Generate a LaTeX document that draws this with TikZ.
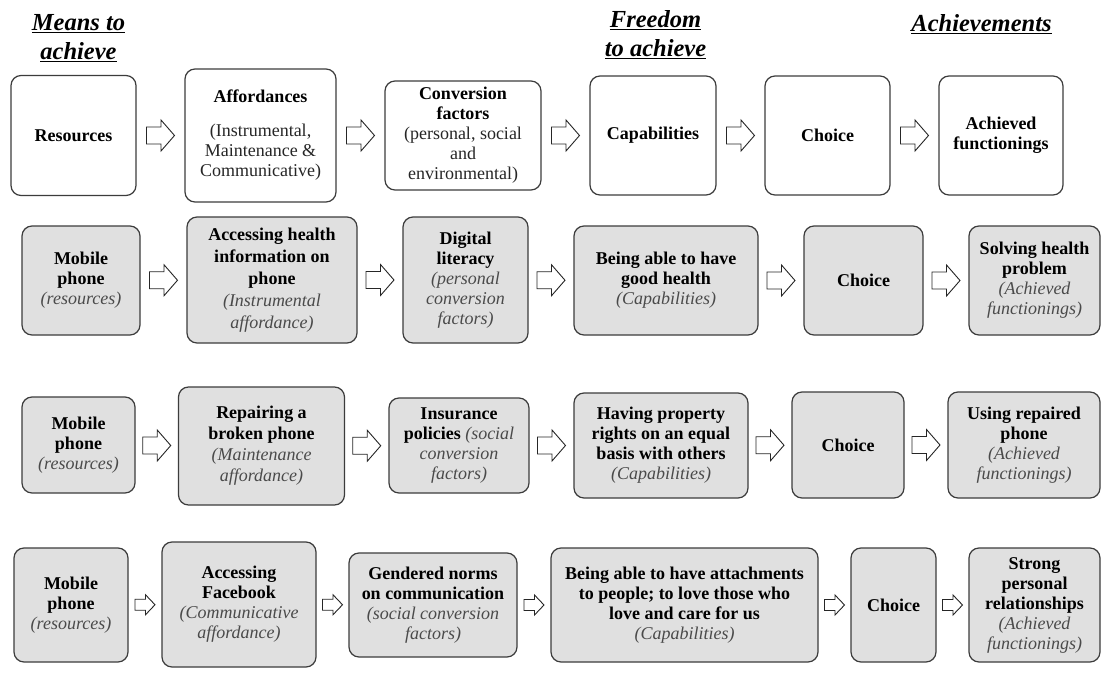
\documentclass[tikz,border=0pt]{standalone}
\usepackage{fontspec}
\setmainfont{Liberation Serif}
\usetikzlibrary{calc}
\definecolor{boxfill}{HTML}{E0E0E0}
\definecolor{boxline}{HTML}{3C3C3C}
\definecolor{desc}{HTML}{4A4A4A}
\definecolor{plain}{HTML}{262626}
\newcommand\bd[1]{\textbf{#1}}
\newcommand\dsc[1]{{\itshape\color{desc}#1}}
\newcommand\pl[1]{{\color{plain}#1}}
\newcommand\bigarr[2]{\draw[barr] ($(#1.east)!0.5!(#2.west)$) ++(-14,-8.5) -- ++(14.5,0) -- ++(0,-7) -- ++(13.5,15.5) -- ++(-13.5,15.5) -- ++(0,-7) -- ++(-14.5,0) -- cycle;}
\newcommand\smallarr[2]{\draw[barr] ($(#1.east)!0.5!(#2.west)$) ++(-10,-5.5) -- ++(10.5,0) -- ++(0,-4.5) -- ++(9.5,10) -- ++(-9.5,10) -- ++(0,-4.5) -- ++(-10.5,0) -- cycle;}
\begin{document}
\begin{tikzpicture}[x=1pt,y=-1pt,
  box/.style={draw=boxline, line width=1.2pt, rounded corners=10pt, align=center, inner sep=0pt, font=\fontsize{18}{20}\selectfont},
  gbox/.style={box, fill=boxfill},
  wbox/.style={box, fill=white},
  hdr/.style={align=center, inner sep=0pt, font=\fontsize{24.5}{29}\selectfont\bfseries\itshape},
  barr/.style={draw=black!85, line width=0.9pt, fill=white, line join=miter}]
\path[use as bounding box, fill=white] (0,0) rectangle (1104,677);

% headers
\node[hdr, anchor=base] (h1) at (78.5,60) {\underline{Means to}\\\underline{achieve}};
\node[hdr, anchor=base] (h2) at (655.5,57) {\underline{Freedom}\\\underline{to achieve}};
\node[hdr, anchor=base] (h3) at (981.5,32) {\underline{Achievements}};

% row 1
\node[wbox, minimum width=125, minimum height=120] (r1a) at (73.5,135.5) {\bd{Resources}};
\node[wbox, minimum width=151, minimum height=133] (r1b) at (260.5,135.5) {\bd{Affordances}\\[14pt]\pl{(Instrumental,}\\\pl{Maintenance \&}\\\pl{Communicative)}};
\node[wbox, minimum width=156, minimum height=109] (r1c) at (463,135.5) {\bd{Conversion}\\\bd{factors}\\\pl{(personal, social}\\\pl{and}\\\pl{environmental)}};
\node[wbox, minimum width=126, minimum height=119] (r1d) at (653,135.5) {\bd{Capabilities}};
\node[wbox, minimum width=125, minimum height=119] (r1e) at (827.5,135.5) {\bd{Choice}};
\node[wbox, minimum width=124, minimum height=119] (r1f) at (1001,135.5) {\bd{Achieved}\\\bd{functionings}};

% row 2
\node[gbox, minimum width=118, minimum height=109] (r2a) at (81,280.5) {\bd{Mobile}\\\bd{phone}\\\dsc{(resources)}};
\node[gbox, minimum width=170, minimum height=126, font=\fontsize{18}{22}\selectfont] (r2b) at (272,280) {\bd{Accessing health}\\\bd{information on}\\\bd{phone}\\\dsc{(Instrumental}\\\dsc{affordance)}};
\node[gbox, minimum width=125, minimum height=126] (r2c) at (465.5,280) {\bd{Digital}\\\bd{literacy}\\\dsc{(personal}\\\dsc{conversion}\\\dsc{factors)}};
\node[gbox, minimum width=184, minimum height=109] (r2d) at (666,280.5) {\bd{Being able to have}\\\bd{good health}\\\dsc{(Capabilities)}};
\node[gbox, minimum width=119, minimum height=109] (r2e) at (863.5,280.5) {\bd{Choice}};
\node[gbox, minimum width=131, minimum height=109] (r2f) at (1034.5,280.5) {\bd{Solving health}\\\bd{problem}\\\dsc{(Achieved}\\\dsc{functionings)}};

% row 3
\node[gbox, minimum width=113, minimum height=96] (r3a) at (78.5,445) {\bd{Mobile}\\\bd{phone}\\\dsc{(resources)}};
\node[gbox, minimum width=166, minimum height=118, font=\fontsize{18}{21}\selectfont] (r3b) at (261.5,446) {\bd{Repairing a}\\\bd{broken phone}\\\dsc{(Maintenance}\\\dsc{affordance)}};
\node[gbox, minimum width=140, minimum height=95] (r3c) at (459,445.5) {\bd{Insurance}\\\bd{policies} \dsc{(social}\\\dsc{conversion}\\\dsc{factors)}};
\node[gbox, minimum width=174, minimum height=105] (r3d) at (661,445.5) {\bd{Having property}\\\bd{rights on an equal}\\\bd{basis with others}\\\dsc{(Capabilities)}};
\node[gbox, minimum width=112, minimum height=106] (r3e) at (848,445) {\bd{Choice}};
\node[gbox, minimum width=152, minimum height=106] (r3f) at (1024,445) {\bd{Using repaired}\\\bd{phone}\\\dsc{(Achieved}\\\dsc{functionings)}};

% row 4
\node[gbox, minimum width=114, minimum height=114] (r4a) at (71,605) {\bd{Mobile}\\\bd{phone}\\\dsc{(resources)}};
\node[gbox, minimum width=154, minimum height=125] (r4b) at (239,604.5) {\bd{Accessing}\\\bd{Facebook}\\\dsc{(Communicative}\\\dsc{affordance)}};
\node[gbox, minimum width=168, minimum height=104] (r4c) at (433,605) {\bd{Gendered norms}\\\bd{on communication}\\\dsc{(social conversion}\\\dsc{factors)}};
\node[gbox, minimum width=267, minimum height=114] (r4d) at (684.5,605) {\bd{Being able to have attachments}\\\bd{to people; to love those who}\\\bd{love and care for us}\\\dsc{(Capabilities)}};
\node[gbox, minimum width=85, minimum height=114] (r4e) at (893.5,605) {\bd{Choice}};
\node[gbox, minimum width=131, minimum height=114] (r4f) at (1034.5,605) {\bd{Strong}\\\bd{personal}\\\bd{relationships}\\\dsc{(Achieved}\\\dsc{functionings)}};

% block arrows
\bigarr{r1a}{r1b}\bigarr{r1b}{r1c}\bigarr{r1c}{r1d}\bigarr{r1d}{r1e}\bigarr{r1e}{r1f}
\bigarr{r2a}{r2b}\bigarr{r2b}{r2c}\bigarr{r2c}{r2d}\bigarr{r2d}{r2e}\bigarr{r2e}{r2f}
\bigarr{r3a}{r3b}\bigarr{r3b}{r3c}\bigarr{r3c}{r3d}\bigarr{r3d}{r3e}\bigarr{r3e}{r3f}
\smallarr{r4a}{r4b}\smallarr{r4b}{r4c}\smallarr{r4c}{r4d}\smallarr{r4d}{r4e}\smallarr{r4e}{r4f}
\end{tikzpicture}
\end{document}
